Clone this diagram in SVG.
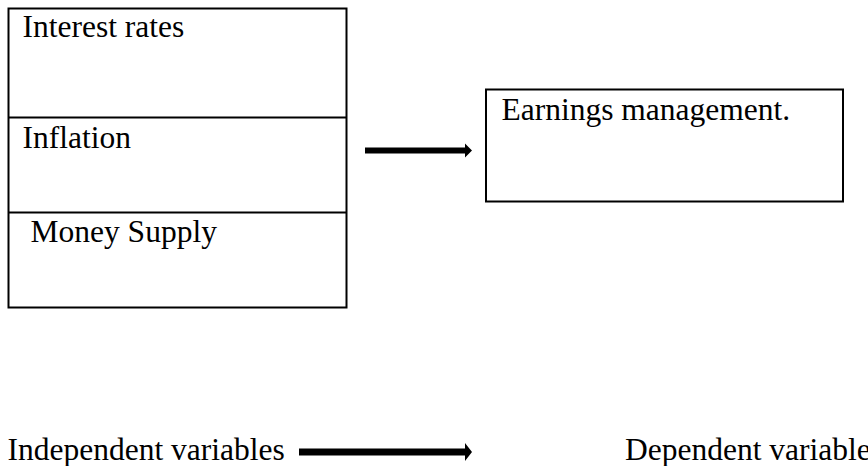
<svg xmlns="http://www.w3.org/2000/svg" width="868" height="466" viewBox="0 0 868 466">
<style>
.box{fill:#fff;stroke:#000;stroke-width:2}
.t{font-family:"Liberation Serif","Times New Roman",serif;font-size:31.5px;fill:#000}
.arr{fill:#000}
</style>
<rect width="868" height="466" fill="#fff"/>
<g id="independent-box">
<rect class="box" x="8.5" y="8.5" width="338" height="299"/>
<g id="interest-rates">
<text class="t" x="22.5" y="36.5">Interest rates</text>
</g>
<line x1="8.5" y1="117.5" x2="346.5" y2="117.5" stroke="#000" stroke-width="2"/>
<g id="inflation">
<text class="t" x="22.5" y="147.5">Inflation</text>
</g>
<line x1="8.5" y1="212.5" x2="346.5" y2="212.5" stroke="#000" stroke-width="2"/>
<g id="money-supply">
<text class="t" x="30.5" y="241.5">Money Supply</text>
</g>
</g>
<g id="earnings-management">
<rect class="box" x="486" y="89.5" width="357" height="112"/>
<text class="t" x="501.5" y="119.5">Earnings management.</text>
</g>
<g id="connectors">
<path class="arr" d="M365,147.5 H465 V143.5 L472,150.5 L465,157.5 V153.5 H365 Z"/>
<path class="arr" d="M299,448.5 H465 V443 L472,452 L465,461 V455.5 H299 Z"/>
</g>
<g id="legend">
<text class="t" x="7.5" y="460">Independent variables</text>
<text class="t" x="625" y="460">Dependent variable</text>
</g>
</svg>
